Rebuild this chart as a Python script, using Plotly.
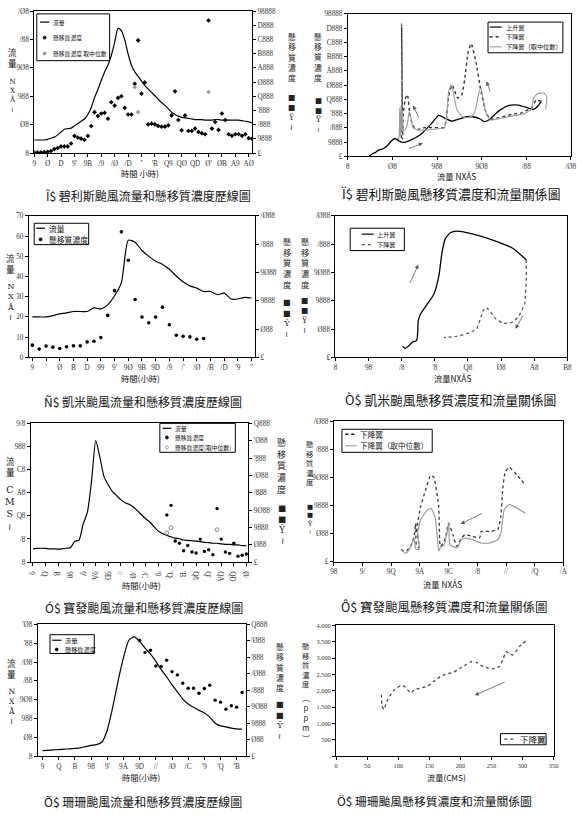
import plotly.graph_objects as go

W, H = 577, 820

# ======================= DATA =======================
# Fig 1 : Bilis hydrograph
bilis_hour = list(range(1, 67))
bilis_flow = [23, 23, 23, 23, 24, 26, 28, 32, 37, 42,
              43, 44, 48, 52, 56, 60, 68, 80, 98, 112,
              128, 143, 155, 172, 195, 220, 216, 200, 175, 155,
              143, 135, 127, 119, 113, 107, 101, 95, 89, 84,
              78, 72, 68, 65, 63, 62, 61, 60, 59, 59,
              59, 58, 58, 58, 59, 59, 58, 58, 58, 58,
              58, 58, 57, 56, 55, 53]
bilis_ssc = [47, 47, 47, 70, 93, 140, 280, 349, 465, 465,
             465, 674, 1209, 1093, 1023, 930, 1209, 1907, 2884, 2608,
             2790, 2838, 2420, 3584, 3347, 3884, 4003, 3187, 2720, 2720,
             4880, 7950, 4184, 4979, 2022, 2071, 2022, 1911, 1862, 1862,
             1953, 2650, 4351, 2329, 1604, 2650, 1562, 1562, 1722, 1492,
             1395, 1325, 9344, 1722, 2190, 1632, 2790, 2329, 1325, 1213,
             1325, 1325, 1213, 1325, 1046, 1000]
bilis_med_hour = [31, 32, 53]
bilis_med_ssc = [4650, 2887, 4303]

# Fig 2 : Bilis SSC vs flow
bilis_rise_q = [24, 28, 31, 35, 40, 45, 49, 53, 57, 62, 71, 82, 93, 102, 110, 117, 126, 133,
                140, 148, 153, 158, 169, 180, 191, 202, 208, 213, 217]
bilis_rise_c = [0, 200, 280, 450, 550, 800, 1088, 1250, 1088, 972, 1157, 1551, 2245, 2870, 2639,
                2477, 2639, 2778, 2778, 2639, 2431, 2546, 3171, 3565, 3588, 3403, 3287, 3519, 3866]
bilis_fall_q = [217, 211, 206, 195, 184, 169, 160, 155, 149, 144, 138.5, 135, 131, 128, 123, 120,
                117, 113, 110.5, 108, 97, 86, 78.5, 73, 69.4, 66.9, 64.7, 62.2, 61.4, 60.3, 59.6,
                56.7, 54.9]
bilis_fall_c = [3866, 3935, 3403, 3056, 2940, 2708, 2593, 3056, 4676, 6528, 7917, 7338, 5370, 4329,
                4097, 4560, 5023, 4213, 2593, 2014, 2014, 2014, 1898, 2130, 3056, 4329, 4097, 3056,
                1204, 9306, 1204, 1204, 1088]
bilis_med_q = [222, 223, 220, 212.7, 208.4, 205.7, 198.4, 183.9, 169.4, 160.3, 155.6, 151.2, 149.4,
               146.9, 143.2, 139.6, 133.1, 127.6, 122.2, 118.5, 115.6, 113.1, 110.5, 108.4, 96.7,
               78.5, 73, 70.5, 68.7, 66.9, 64.7, 62.2, 61.1, 60.3, 59.6, 58.9, 58.2, 57.4, 56]
bilis_med_c = [3287, 4213, 4444, 4398, 4097, 3287, 3009, 2824, 2639, 2546, 2940, 4213, 4792, 4444,
               3287, 2824, 2708, 2824, 3287, 4444, 5023, 4560, 2593, 2014, 1898, 1852, 2014, 2824,
               3102, 2338, 1898, 1782, 3287, 1782, 3519, 1435, 3403, 1319, 1204]

# Fig 3 : Kaemi hydrograph
kaemi_hour = list(range(1, 34))
kaemi_flow = [20, 20, 20, 20.7, 21.5, 22, 22.7, 22.7, 22.7, 24.5,
              24, 26, 30.5, 37, 58, 57, 52.9, 50, 47.6, 46,
              43.6, 40.3, 37.4, 35.4, 34.3, 32.6, 32.6, 31, 31.8, 28.9,
              28.9, 29.7, 29.4]
kaemi_ssc_hour = list(range(1, 27))
kaemi_ssc = [216, 146, 199, 181, 158, 187, 204, 204, 274, 286, 350, 742, 1180, 2219, 1717, 1022,
             712, 613, 712, 888, 578, 391, 374, 362, 321, 333]

# Fig 4 : Kaemi SSC vs flow
kaemi_rise_q = [20.3, 21.0, 21.8, 22.6, 23.3, 24.3, 24.6, 24.8, 25.0, 25.7, 27.7, 29.7, 31.2, 32.2,
                33.2, 34.7, 36.6, 38.6, 41.6, 47.5, 53.5, 57.6]
kaemi_rise_c = [198, 157, 186, 232, 273, 291, 314, 418, 651, 767, 941, 1116, 1435, 1871, 2103, 2202,
                2231, 2219, 2179, 2074, 1929, 1726]
kaemi_fall_q = [57.6, 57.6, 57.4, 57.1, 55.4, 53.5, 50.5, 48.5, 45.5, 44.6, 42.6, 39.6, 36.6, 34.7, 32.7]
kaemi_fall_c = [1726, 1406, 1145, 941, 738, 622, 604, 680, 883, 825, 505, 418, 372, 360, 349]

# Fig 5 : Bopha hydrograph
bopha_hour = list(range(1, 53))
bopha_flow = [11.5, 11.8, 12, 11.8, 11.5, 11.5, 11.2, 11.5, 12, 12.6,
              18, 19, 33, 43, 70, 105, 90.5, 73.7, 66.7, 61,
              57.5, 54, 51.3, 50, 47.7, 44.3, 40.7, 37.3, 34.5, 30.3,
              26.6, 24.7, 23, 21.9, 20.7, 20.2, 19.1, 18.8, 18.5, 18.2,
              17.7, 17.1, 16.8, 16.3, 16.3, 15.7, 15.4, 15.4, 14.9, 14.9,
              14.3, 14.3]
bopha_ssc_hour = list(range(33, 53))
bopha_ssc = [1356, 1636, 608, 542, 327, 477, 290, 262, 664, 309, 355, 215, 1543, 664, 290, 252, 542,
             168, 196, 234]
bopha_med_hour = [33, 34, 45]
bopha_med_ssc = [841, 991, 935]

# Fig 6 : Bopha SSC vs flow (falling limb)
bopha_fall_q = [14.68, 15.02, 15.36, 15.60, 15.71, 15.75, 15.94, 15.80, 16.05, 16.39, 16.74, 16.97,
                17.31, 17.42, 17.65, 17.80, 17.99, 18.30, 18.56, 18.90, 19.13, 19.70, 20.16, 20.27,
                20.84, 21.42, 21.64, 21.76, 21.94, 22.21, 22.79, 23.36]
bopha_fall_c = [216, 188, 276, 452, 685, 300, 246, 600, 979, 1271, 1534, 1506, 979, 276, 334, 450,
                685, 480, 276, 422, 480, 452, 422, 540, 540, 568, 803, 1271, 1594, 1682, 1534, 1359]
bopha_med_q = [14.68, 15.02, 15.35, 15.60, 15.70, 15.95, 15.85, 16.05, 16.51, 16.78, 17.08, 17.31,
               17.42, 17.65, 17.90, 18.00, 18.10, 18.60, 18.90, 19.13, 19.70, 20.27, 20.84, 21.42,
               21.64, 21.87, 22.21, 22.79, 23.36]
bopha_med_c = [216, 150, 260, 420, 230, 215, 520, 744, 920, 949, 773, 188, 250, 290, 520, 690, 300,
               246, 400, 422, 392, 334, 334, 392, 510, 919, 1019, 949, 861]

# Fig 7 : Shanshan hydrograph
shan_hour = list(range(1, 39))
shan_flow = [15, 16, 17, 18, 19, 20, 21, 22.5, 26, 29,
             31, 38, 70, 130, 200, 262, 308, 317, 305, 287,
             272, 252, 230, 211, 190, 171, 152, 139, 130, 122,
             115, 104, 88, 81, 78, 75, 73, 72]
shan_ssc_hour = list(range(19, 39))
shan_ssc = [3518, 3145, 3216, 2742, 2722, 2913, 2570, 2470, 2218, 2066, 2066, 1915, 2056, 2157, 1704,
            1643, 1431, 1532, 1492, 1935]

# Fig 8 : Shanshan SSC vs flow (falling limb)
shan_fall_q = [305.2, 294.6, 289.3, 284.1, 278.8, 273.5, 268.2, 262.9, 252.4, 236.5, 226, 218.1, 210.1,
               199.6, 189, 178.5, 167.9, 157.3, 146.8, 136.2, 125.7, 120.4, 109.8, 104.5, 94, 86.1,
               80.8, 77.1, 73.9, 72.9]
shan_fall_c = [3518, 3347, 3195, 3095, 3145, 3195, 2943, 2742, 2671, 2742, 2873, 2893, 2812, 2691, 2570,
               2520, 2439, 2288, 2137, 2087, 2036, 1935, 2137, 2167, 2036, 1835, 1633, 1431, 1532, 1935]

# ---- tick labels (as printed, in the source's garbled digit font) ----
ssc10k_vals = list(range(0, 10001, 1000))
ssc10k_text = ["£", "9888", "/888", "'888", "Q888", "Ø888", "A888", "B888", "C888", "D888", "98888"]
q250_vals = list(range(0, 251, 50))
q250_text = ["8", "Ø8", "988", "9Ø8", "/88", "/Ø8"]
bilis_hour_ticks = list(range(1, 66, 4))
bilis_hour_text = ["9", "Ø", "D", "9'", "9B", "/9", "/Ø", "/D", "''", "'B", "Q9", "QØ", "QD", "Ø'",
                   "ØB", "A9", "AØ"]
kaemi_hour_ticks = list(range(1, 34, 2))
kaemi_hour_text = ["9", "'", "Ø", "B", "D", "99", "9'", "9Ø", "9B", "9D", "/9", "/'", "/Ø", "/B",
                   "/D", "'9", "''"]
q70_vals = list(range(0, 71, 10))
q70_text = [str(v) for v in q70_vals]
ssc2500_vals = list(range(0, 2501, 500))
ssc2500_text = ["£", "Ø88", "9888", "9Ø88", "/888", "/Ø88"]
kaemi_q_text = ["8", "98", "/8", "'8", "Q8", "Ø8", "A8", "B8"]
bopha_hour_ticks = list(range(1, 53, 3))
bopha_hour_text = ["9", "Q", "B", "98", "9'", "9A", "9D", "//", "/Ø", "/C", "'9", "'Q", "'B", "Q8",
                   "Q'", "QA", "QD", "Ø/"]
q120_vals = list(range(0, 121, 20))
q120_text = ["8", "/8", "Q8", "A8", "C8", "988", "9/8"]
ssc4000_vals = list(range(0, 4001, 500))
ssc4000_text = ["£", "Ø88", "9888", "9Ø88", "/888", "/Ø88", "'888", "'Ø88", "Q888"]
bopha_q_vals = list(range(10, 27, 2))
bopha_q_text = ["98", "9/", "9Q", "9A", "9C", "/8", "//", "/Q", "/A"]
shan_hour_ticks = list(range(1, 38, 3))
shan_hour_text = ["9", "Q", "B", "98", "9'", "9A", "9D", "//", "/Ø", "/C", "'9", "'Q", "'B"]
q350_vals = list(range(0, 351, 50))
q350_text = ["8", "Ø8", "988", "9Ø8", "/88", "/Ø8", "'88", "'Ø8"]
shan_q_text = [str(v) for v in q350_vals]
shan_c_text = ["-", "500", "1,000", "1,500", "2,000", "2,500", "3,000", "3,500", "4,000"]

captions = ["Î$ 碧利斯颱風流量和懸移質濃度歷線圖", "Ï$ 碧利斯颱風懸移質濃度和流量關係圖",
            "Ñ$ 凱米颱風流量和懸移質濃度歷線圖", "Ò$ 凱米颱風懸移質濃度和流量關係圖",
            "Ó$ 寶發颱風流量和懸移質濃度歷線圖", "Ô$ 寶發颱風懸移質濃度和流量關係圖",
            "Õ$ 珊珊颱風流量和懸移質濃度歷線圖", "Ö$ 珊珊颱風懸移質濃度和流量關係圖"]

# ======================= FIGURE =======================
CJK = "Noto Sans CJK TC"
TF = dict(family="Liberation Serif", size=7.2, color="#333")


def px(x):
    return x / W


def py(y):
    return 1 - y / H


def xd(a, b):
    return [a / W, b / W]


def yd(top, bottom):
    return [1 - bottom / H, 1 - top / H]


def ax(**kw):
    base = dict(showline=True, linecolor="black", linewidth=1, ticks="outside", ticklen=3,
                tickwidth=1, tickcolor="black", showgrid=False, zeroline=False, tickfont=TF,
                fixedrange=True, tickmode="array")
    base.update(kw)
    return base


fig = go.Figure()
L = dict(width=W, height=H, margin=dict(l=0, r=0, t=0, b=0), paper_bgcolor="white",
         plot_bgcolor="white", showlegend=False)

# axes -------------------------------------------------
L["xaxis"] = ax(domain=xd(30.7, 252), anchor="y", range=[1, 66], tickvals=bilis_hour_ticks,
                ticktext=bilis_hour_text, mirror=True)
L["yaxis"] = ax(domain=yd(7.3, 150.7), anchor="x", range=[0, 250], tickvals=q250_vals, ticktext=q250_text)
L["yaxis9"] = ax(overlaying="y", side="right", anchor="x", range=[0, 10000], tickvals=ssc10k_vals,
                 ticktext=ssc10k_text)

L["xaxis2"] = ax(domain=xd(349.3, 575.7), anchor="y2", range=[0, 250], tickvals=q250_vals,
                 ticktext=q250_text, mirror=True)
L["yaxis2"] = ax(domain=yd(10, 154), anchor="x2", range=[0, 10000], tickvals=ssc10k_vals,
                 ticktext=ssc10k_text, mirror=True)

L["xaxis3"] = ax(domain=xd(25.3, 255), anchor="y3", range=[0.5, 33.5], tickvals=kaemi_hour_ticks,
                 ticktext=kaemi_hour_text, mirror=True)
L["yaxis3"] = ax(domain=yd(214.3, 357.3), anchor="x3", range=[0, 70], tickvals=q70_vals, ticktext=q70_text)
L["yaxis10"] = ax(overlaying="y3", side="right", anchor="x3", range=[0, 2500], tickvals=ssc2500_vals,
                  ticktext=ssc2500_text)

L["xaxis4"] = ax(domain=xd(336.7, 572.3), anchor="y4", range=[0, 70], tickvals=q70_vals,
                 ticktext=kaemi_q_text, mirror=True)
L["yaxis4"] = ax(domain=yd(214.3, 357.3), anchor="x4", range=[0, 2500], tickvals=ssc2500_vals,
                 ticktext=ssc2500_text, mirror=True)

L["xaxis5"] = ax(domain=xd(27.3, 248.3), anchor="y5", range=[0.5, 52.5], tickvals=bopha_hour_ticks,
                 ticktext=bopha_hour_text, mirror=True)
L["yaxis5"] = ax(domain=yd(424, 564.3), anchor="x5", range=[0, 120], tickvals=q120_vals, ticktext=q120_text)
L["yaxis11"] = ax(overlaying="y5", side="right", anchor="x5", range=[0, 4000], tickvals=ssc4000_vals,
                  ticktext=ssc4000_text)

L["xaxis6"] = ax(domain=xd(335, 568.3), anchor="y6", range=[10, 26], tickvals=bopha_q_vals,
                 ticktext=bopha_q_text, mirror=True)
L["yaxis6"] = ax(domain=yd(421.7, 564), anchor="x6", range=[0, 2500], tickvals=ssc2500_vals,
                 ticktext=ssc2500_text, mirror=True)

L["xaxis7"] = ax(domain=xd(34.3, 245.7), anchor="y7", range=[0.1, 38.7], tickvals=shan_hour_ticks,
                 ticktext=shan_hour_text, mirror=True)
L["yaxis7"] = ax(domain=yd(627.3, 760.7), anchor="x7", range=[0, 350], tickvals=q350_vals, ticktext=q350_text)
L["yaxis12"] = ax(overlaying="y7", side="right", anchor="x7", range=[0, 4000], tickvals=ssc4000_vals,
                  ticktext=ssc4000_text)

SMALLTF = dict(family="Liberation Serif", size=6.3, color="#333")
L["xaxis8"] = ax(domain=xd(337.3, 558.3), anchor="y8", range=[0, 350], tickvals=q350_vals,
                 ticktext=shan_q_text, mirror=True, tickfont=SMALLTF)
L["yaxis8"] = ax(domain=yd(628.3, 760.7), anchor="x8", range=[0, 4000], tickvals=ssc4000_vals,
                 ticktext=shan_c_text, mirror=True, tickfont=SMALLTF)

# traces -----------------------------------------------
BLK = "black"
GRY = "#9a9a9a"


def line(x, y, xa, ya, color=BLK, width=1.2, dash="solid", smooth=0.6):
    fig.add_trace(go.Scatter(x=x, y=y, xaxis=xa, yaxis=ya, mode="lines", hoverinfo="skip",
                             line=dict(color=color, width=width, dash=dash, shape="spline",
                                       smoothing=smooth)))


def dots(x, y, xa, ya, color=BLK, symbol="diamond", size=4, lw=0):
    fig.add_trace(go.Scatter(x=x, y=y, xaxis=xa, yaxis=ya, mode="markers", hoverinfo="skip",
                             marker=dict(color=color, symbol=symbol, size=size,
                                         line=dict(width=lw, color=color))))


line(bilis_hour, bilis_flow, "x", "y")
dots(bilis_hour, bilis_ssc, "x", "y9", size=3.6)
dots(bilis_med_hour, bilis_med_ssc, "x", "y9", color=GRY, size=3.6)

line(bilis_rise_q, bilis_rise_c, "x2", "y2", width=1.3, smooth=0.5)
line(bilis_fall_q, bilis_fall_c, "x2", "y2", color="#333", width=1.4, dash="dot", smooth=0.4)
line(bilis_med_q, bilis_med_c, "x2", "y2", color=GRY, width=1.1, smooth=0.4)

line(kaemi_hour, kaemi_flow, "x3", "y3")
dots(kaemi_ssc_hour, kaemi_ssc, "x3", "y10", symbol="circle", size=3.6)

line(kaemi_rise_q, kaemi_rise_c, "x4", "y4", width=1.3, smooth=0.5)
line(kaemi_fall_q, kaemi_fall_c, "x4", "y4", color="#555", width=1.3, dash="dot", smooth=0.5)

line(bopha_hour, bopha_flow, "x5", "y5")
dots(bopha_ssc_hour, bopha_ssc, "x5", "y11", symbol="circle", size=3.4)
dots(bopha_med_hour, bopha_med_ssc, "x5", "y11", color="#888", symbol="circle-open", size=3.8, lw=1)

line(bopha_fall_q, bopha_fall_c, "x6", "y6", color="#333", width=1.3, dash="dot", smooth=0.4)
line(bopha_med_q, bopha_med_c, "x6", "y6", color=GRY, width=1.2, smooth=0.4)

line(shan_hour, shan_flow, "x7", "y7")
dots(shan_ssc_hour, shan_ssc, "x7", "y12", symbol="circle", size=3.4)

line(shan_fall_q, shan_fall_c, "x8", "y8", color="#444", width=1.3, dash="dot", smooth=0.4)

# annotations & shapes ---------------------------------
ann = []
shp = []


def text(x, y, s, size=9, anchor="center", color="#111", family=CJK):
    ann.append(dict(x=px(x), y=py(y), xref="paper", yref="paper", text=s, showarrow=False,
                    xanchor=anchor, yanchor="middle", font=dict(family=family, size=size, color=color)))


def vstack(x, y_first, y_last, chars, family=CJK, size=None):
    """vertical text: one glyph per line, line pitch = 1.3 * font size"""
    n = len(chars)
    if size is None:
        size = (y_last - y_first) / (n - 1) / 1.3 if n > 1 else 8.5
    ann.append(dict(x=px(x), y=py((y_first + y_last) / 2), xref="paper", yref="paper",
                    text="<br>".join(chars), showarrow=False, xanchor="center", yanchor="middle",
                    font=dict(family=family, size=size, color="#222")))


SERIF = "DejaVu Serif"


def flow_title(x, y0, y1, g0, g1, glyphs=("N", "X", "Å")):
    vstack(x, y0, y1, ["流", "量"], size=8.6)
    vstack(x, g0, g1, list(glyphs) + ["≀"], family=SERIF)


def ssc_title(x, y0, y1, g0, g1):
    vstack(x, y0, y1, ["懸", "移", "質", "濃", "度"])
    vstack(x, g0, g1, ["■", "■", "Ÿ", "≀"], family=SERIF)


def arrow(xa, ya, tail, head, color="#555"):
    ann.append(dict(x=head[0], y=head[1], ax=tail[0], ay=tail[1], xref=xa, yref=ya, axref=xa, ayref=ya,
                    text="", showarrow=True, arrowhead=2, arrowsize=1, arrowwidth=0.8, arrowcolor=color))


def legend(box, entries, size):
    shp.append(dict(type="rect", xref="paper", yref="paper", x0=px(box[0]), x1=px(box[2]),
                    y0=py(box[3]), y1=py(box[1]), line=dict(color="black", width=1), fillcolor="white",
                    layer="above"))
    for e in entries:
        y = e["y"]
        if e["kind"] == "line":
            shp.append(dict(type="line", xref="paper", yref="paper", x0=px(e["x0"]), x1=px(e["x1"]),
                            y0=py(y), y1=py(y), layer="above",
                            line=dict(color=e.get("color", BLK), width=e.get("w", 1.2),
                                      dash=e.get("dash", "solid"))))
        else:
            r = e.get("r", 1.5)
            cx = e["cx"]
            shp.append(dict(type="circle", xref="paper", yref="paper", x0=px(cx - r), x1=px(cx + r),
                            y0=py(y + r), y1=py(y - r), layer="above",
                            fillcolor=e.get("fill", BLK), line=dict(color=e.get("color", BLK), width=0.8)))
        text(e["tx"], y, e["text"], size=size, anchor="left")


# captions
cap_pos = [(146, 193.3, 12), (454, 192, 12.8), (141, 401.7, 12), (454, 399.5, 12.8),
           (142, 610, 12), (447, 609.3, 12.5), (141, 806.7, 12), (437, 805.3, 11.8)]
for (cx, cy, cs), s in zip(cap_pos, captions):
    text(cx, cy, s, size=cs, color="#111")

# x-axis titles
text(138, 171, "時間 小時)", size=8.3)
text(460, 173.5, "流量 NXÅS", size=8.3)
text(138.3, 378.3, "時間(小時)", size=8.3)
text(455.7, 378.3, "流量NXÅS", size=8.3)
text(140, 587, "時間(小時)", size=8.3)
text(445, 586.5, "流量 NXÅS", size=8.3)
text(140, 782, "時間(小時)", size=8.2)
text(449.3, 781.5, "流量(CMS)", size=8.2)

# y-axis titles (vertical, one glyph per line)
flow_title(8.5, 48.3, 59.3, 79, 106.7)
ssc_title(292.5, 33, 74, 95, 125)
ssc_title(319, 33.3, 74, 98, 127)
flow_title(7, 256.7, 268.3, 286, 317.3)
ssc_title(287, 240, 282.7, 301.7, 333.3)
ssc_title(305.5, 240, 282.7, 300, 330)
flow_title(6.5, 461.7, 473.3, 491.7, 528.3, glyphs=("C", "M", "S"))
ssc_title(282, 443.3, 490, 510, 543.3)
ssc_title(311, 444.3, 482.7, 508.3, 533.3)
flow_title(7.5, 666.7, 676.7, 695, 725)
ssc_title(280, 650, 691, 708.3, 740)
vstack(307, 648.3, 686.7, ["懸", "移", "質", "濃", "度"])
vstack(307, 701, 743.3, ["︵", "p", "p", "m", "︶"], family=CJK, size=7.8)

# arrows
arrow("x2", "y2", (66.8, 507), (84, 924))
arrow("x2", "y2", (80.4, 2639), (73.1, 3563))
arrow("x2", "y2", (160.3, 4444), (155.6, 5257))
arrow("x4", "y4", (22.3, 1290), (25, 1638))
arrow("x4", "y4", (56.9, 767), (54.3, 505))
arrow("x6", "y6", (20.43, 873), (18.84, 673))
arrow("x8", "y8", (273.5, 2288), (223.3, 1865))

# legends
legend((33.3, 10, 107.3, 57.3), [
    dict(kind="line", y=18.3, x0=36.7, x1=46, tx=48, text="流量"),
    dict(kind="marker", y=34, cx=41.3, tx=48, text="懸移質濃度"),
    dict(kind="marker", y=50, cx=41.3, tx=48, text="懸移質濃度 取中位數", fill=GRY, color=GRY),
], size=5.8)
legend((491.7, 18.3, 567.7, 49.3), [
    dict(kind="line", y=23.3, x0=493.3, x1=505.5, tx=508, text="上升翼"),
    dict(kind="line", y=33.3, x0=493.3, x1=505.5, tx=508, text="下降翼", dash="dot", w=1.3),
    dict(kind="line", y=43.3, x0=493.3, x1=505.5, tx=508, text="下降翼（取中位數）", color=GRY, w=1.1),
], size=6.2)
legend((30.7, 221.7, 86, 243.3), [
    dict(kind="line", y=226.7, x0=32.7, x1=41.7, tx=43.3, text="流量"),
    dict(kind="marker", y=238, cx=37.2, tx=43.3, text="懸移質濃度"),
], size=7.8)
legend((351.7, 226.7, 406.7, 249.3), [
    dict(kind="line", y=232.7, x0=363.5, x1=375.5, tx=377.3, text="上升翼"),
    dict(kind="line", y=243.3, x0=363.5, x1=375.5, tx=377.3, text="下降翼", dash="dot", color="#555", w=1.3),
], size=6.2)
legend((158.3, 424, 235, 453.3), [
    dict(kind="line", y=429, x0=161, x1=170, tx=171.7, text="流量"),
    dict(kind="marker", y=438.3, cx=165.5, tx=171.7, text="懸移質濃度"),
    dict(kind="marker", y=448.3, cx=165.5, tx=171.7, text="懸移質濃度(取中位數)", fill="white", color="#888"),
], size=5.8)
legend((343.3, 430, 435, 453.3), [
    dict(kind="line", y=435, x0=346.7, x1=358.3, tx=360, text="下降翼", dash="dot", w=1.3),
    dict(kind="line", y=446.7, x0=346.7, x1=358.3, tx=360, text="下降翼（取中位數）", color=GRY, w=1.1),
], size=7.6)
legend((46.7, 637.7, 91.7, 656.7), [
    dict(kind="line", y=643.3, x0=49, x1=58.3, tx=60, text="流量"),
    dict(kind="marker", y=652.7, cx=53.5, tx=60, text="懸移質濃度"),
], size=6.2)
legend((504.3, 737.7, 550.7, 749), [
    dict(kind="line", y=743.3, x0=508.3, x1=520, tx=521.7, text="下降翼", dash="dot", color="#444", w=1.3),
], size=8.5)

L["annotations"] = ann
L["shapes"] = shp
fig.update_layout(**L)
fig.write_html("out.html")
